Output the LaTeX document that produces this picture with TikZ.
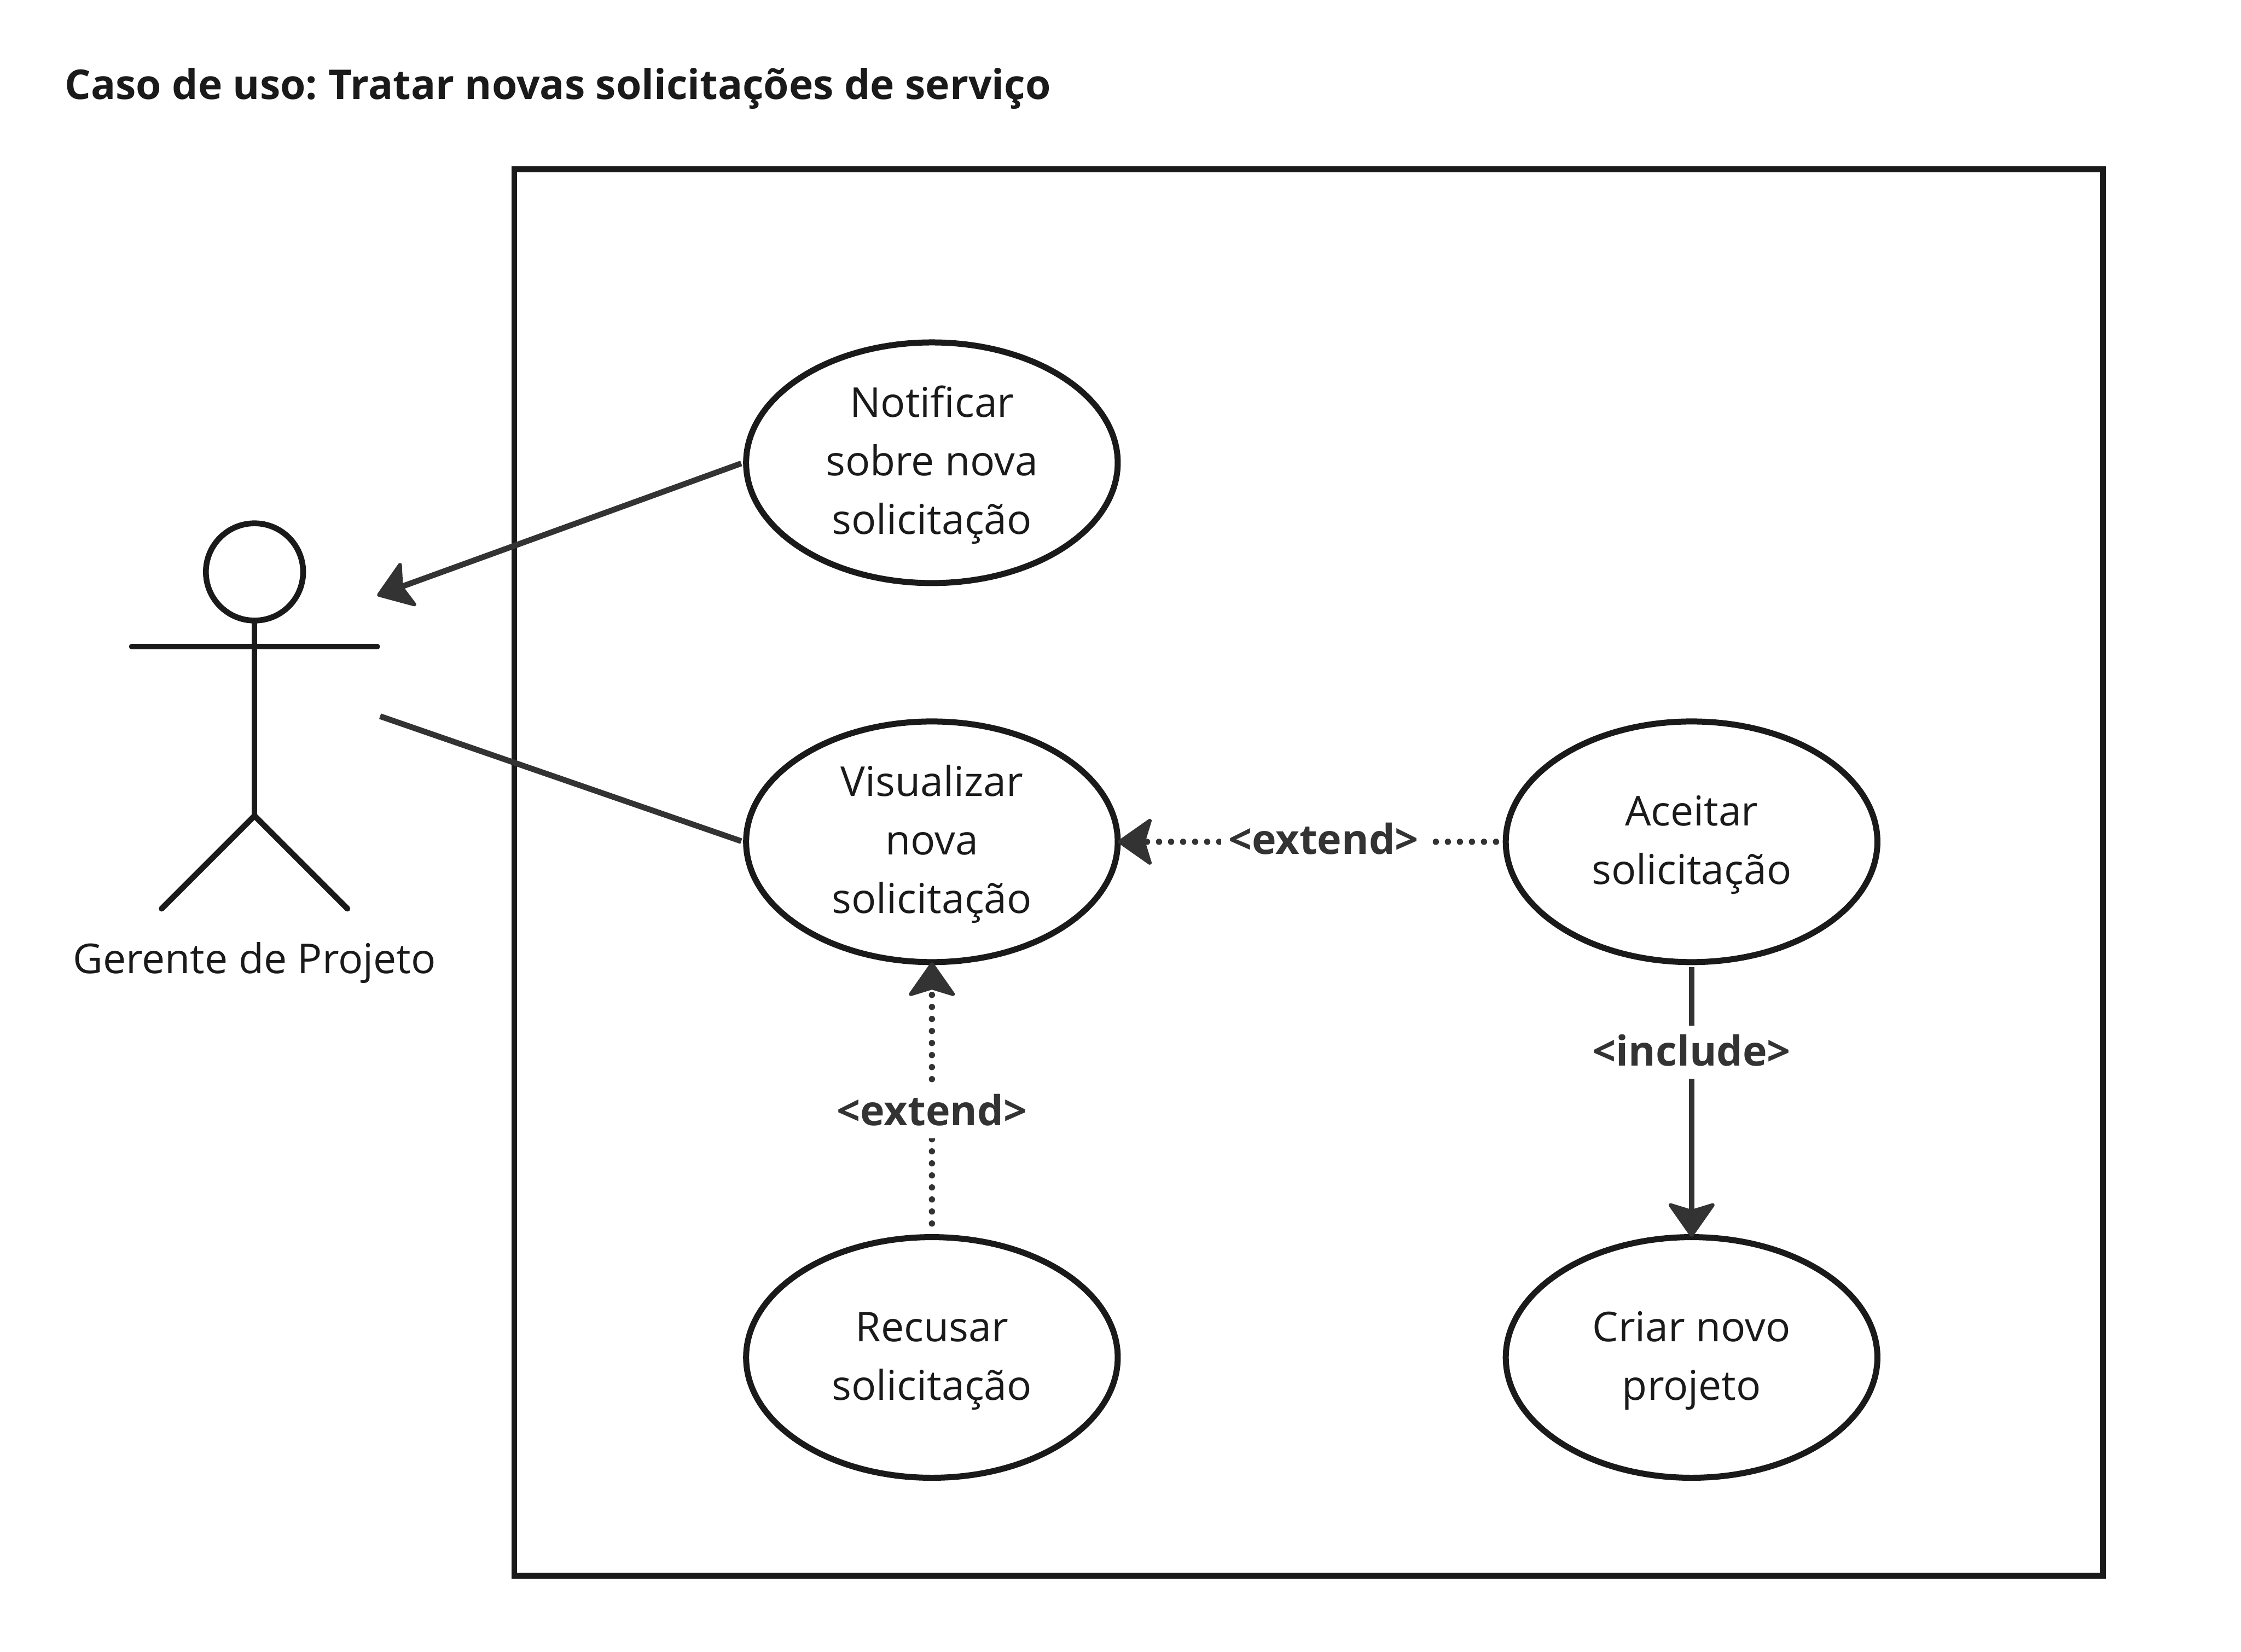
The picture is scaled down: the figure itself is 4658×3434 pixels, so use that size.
\documentclass[tikz,border=0pt]{standalone}
\usepackage{fontspec}
\setmainfont{Open Sans}
\usetikzlibrary{arrows.meta,shapes.geometric}
\definecolor{ink}{HTML}{1A1A1A}
\definecolor{conn}{HTML}{333333}
\newcommand{\bodyfont}{\fontsize{24.3pt}{34.6pt}\selectfont}
\newcommand{\labfont}{\fontsize{24.4pt}{34.6pt}\selectfont\bfseries}
\newcommand{\topstrut}{\rule{0pt}{25.9pt}}
\tikzset{
  ucase/.style={ellipse,draw=ink,line width=0.125cm,fill=white,minimum width=7.72cm,minimum height=5cm,inner sep=-2cm,align=center,font=\bodyfont,text=ink},
  actorline/.style={draw=ink,line width=0.12cm,line cap=round},
  conline/.style={draw=conn,line width=0.12cm},
  dotline/.style={draw=conn,line width=0.13cm,line cap=round,dash pattern=on 0pt off 0.25cm},
  tipend/.tip={Stealth[length=0.76cm,width=1.06cm,inset=0.16cm,round,line width=0.08cm]},
  edgelabel/.style={fill=white,inner sep=0pt,text=conn,font=\labfont,text height=0.84cm,text depth=0.26cm}
}
\begin{document}
\begin{tikzpicture}[x=0.01cm,y=-0.01cm]
\useasboundingbox[fill=white] (0,0) rectangle (4658,3434);
\node[anchor=west,inner sep=0pt,text=ink,font=\fontsize{24.25pt}{34.6pt}\selectfont\bfseries] (title) at (134,184) {Caso de uso:\kern-0.06cm{} Tratar novas solicitações de serviço};
\node[draw=ink,line width=0.12cm,minimum width=33.0cm,minimum height=29.22cm,inner sep=0pt,anchor=north west,outer sep=0pt] (frame) at (1069,352) {};
% actor
\node[circle,draw=ink,line width=0.12cm,minimum size=2.02cm,inner sep=0pt] (head) at (529,1189) {};
\coordinate (armL) at (274,1344);
\coordinate (armR) at (784,1344);
\coordinate (hip) at (529,1696);
\coordinate (footL) at (336,1889);
\coordinate (footR) at (722,1889);
\draw[actorline] (head.south) -- (hip);
\draw[actorline] (armL) -- (armR);
\draw[actorline] (footL) -- (hip) -- (footR);
\node[font=\bodyfont,text=ink,inner sep=0pt] (actor) at (529,2002) {Gerente de Projeto};
\coordinate (actorIn) at (784,1238);
\coordinate (actorOut) at (790,1489);
% use cases
\node[ucase] (notif) at (1937,962) {\topstrut Notificar\\sobre nova\\solicitação\strut};
\node[ucase] (visu) at (1937,1750) {\topstrut Visualizar\\nova\\solicitação\strut};
\node[ucase] (recu) at (1937,2822) {\topstrut Recusar\\solicitação\strut};
\node[ucase] (acei) at (3516,1750) {\topstrut Aceitar\\solicitação\strut};
\node[ucase] (cria) at (3516,2822) {\topstrut Criar novo\\projeto\strut};
% connectors
\draw[conline,-{tipend},shorten <=0.04cm] (notif.west) -- (actorIn);
\draw[conline,shorten <=0.04cm] (visu.west) -- (actorOut);
\draw[dotline,-{tipend},shorten >=-0.06cm] ([xshift=-0.14cm]acei.west) -- (visu.east);
\node[edgelabel,minimum width=4.4cm] (lab1) at (2758,1747) {<extend>\hspace*{0.14cm}};
\draw[dotline,-{tipend},shorten >=-0.06cm] ([yshift=0.22cm]recu.north) -- (visu.south);
\node[edgelabel,minimum width=4.4cm] (lab2) at (1937,2311) {<extend>};
\draw[conline,-{tipend},shorten >=-0.06cm] ([yshift=-0.04cm]acei.south) -- (cria.north);
\node[edgelabel,minimum width=4.4cm] (lab3) at (3516,2187) {<include>};
\end{tikzpicture}
\end{document}
